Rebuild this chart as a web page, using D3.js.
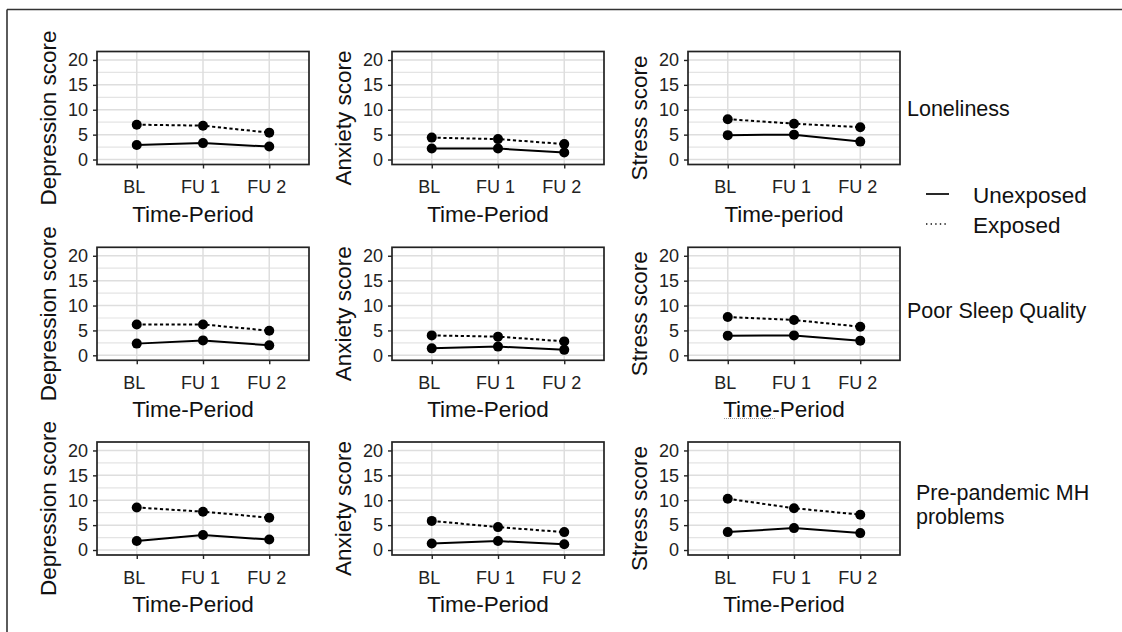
<!DOCTYPE html>
<html>
<head>
<meta charset="utf-8">
<script src="https://cdn.jsdelivr.net/npm/d3@7"></script>
<style>
  html, body { margin: 0; padding: 0; background: #fff; }
  svg { display: block; font-family: "Liberation Sans", Arial, sans-serif; }
</style>
</head>
<body>
<svg id="chart" width="1122" height="632"></svg>
<script>
// ---- Data ----
const timePoints = ["BL", "FU 1", "FU 2"];
const exposures = ["Loneliness", "Poor Sleep Quality", "Pre-pandemic MH problems"];
const exposureLabelLines = [["Loneliness"], ["Poor Sleep Quality"], ["Pre-pandemic MH", "problems"]];
const outcomes = ["Depression score", "Anxiety score", "Stress score"];
const xTitles = [
  ["Time-Period", "Time-Period", "Time-period"],
  ["Time-Period", "Time-Period", "Time-Period"],
  ["Time-Period", "Time-Period", "Time-Period"]
];
const yTicks = [0, 5, 10, 15, 20];
const yMinorTicks = [2.5, 7.5, 12.5, 17.5];
const groups = ["Unexposed", "Exposed"];

// values[row][col] = series over timePoints
const lonelinessUnexposed = [[2.9, 3.3, 2.6], [2.2, 2.2, 1.4], [4.9, 5.0, 3.6]];
const lonelinessExposed   = [[7.0, 6.8, 5.4], [4.4, 4.1, 3.1], [8.1, 7.2, 6.5]];
const sleepUnexposed      = [[2.35, 3.0, 2.0], [1.4, 1.75, 1.1], [3.95, 4.0, 2.95]];
const sleepExposed        = [[6.2, 6.2, 4.95], [4.0, 3.75, 2.8], [7.7, 7.1, 5.75]];
const prepandUnexposed    = [[1.8, 3.0, 2.1], [1.3, 1.8, 1.15], [3.6, 4.4, 3.4]];
const prepandExposed      = [[8.55, 7.7, 6.5], [5.85, 4.6, 3.6], [10.3, 8.4, 7.1]];

const unexposedByRow = [lonelinessUnexposed, sleepUnexposed, prepandUnexposed];
const exposedByRow = [lonelinessExposed, sleepExposed, prepandExposed];

// ---- Layout ----
const colLeft = [97, 392, 688];
const rowTop = [51.5, 247.3, 442];
const pw = 212, ph = 113;
const dashExposed = "3.2,2.6";
const FONT = "'Liberation Sans', Arial, sans-serif";

const svg = d3.select("#chart");

// outer frame (top and left lines)
svg.append("line").attr("x1", 7).attr("x2", 1122).attr("y1", 9.5).attr("y2", 9.5)
  .attr("stroke", "#333").attr("stroke-width", 1.6);
svg.append("line").attr("x1", 7).attr("x2", 7).attr("y1", 9.5).attr("y2", 632)
  .attr("stroke", "#333").attr("stroke-width", 1.6);

const x = d3.scalePoint().domain(timePoints).range([0, pw]).padding(0.6);
const y = d3.scaleLinear().domain([-1, 21.7]).range([ph, 0]);

const line = d3.line().x((d, i) => x(timePoints[i])).y(d => y(d));

exposures.forEach((exp, r) => {
  outcomes.forEach((out, c) => {
    const g = svg.append("g").attr("transform", `translate(${colLeft[c]},${rowTop[r]})`);
    g.append("rect").attr("width", pw).attr("height", ph).attr("fill", "#fff");
    // minor grid
    g.selectAll(".ming").data(yMinorTicks).join("line")
      .attr("x1", 0).attr("x2", pw).attr("y1", d => y(d)).attr("y2", d => y(d))
      .attr("stroke", "#e4e4e4").attr("stroke-width", 1.2);
    // major grid
    g.selectAll(".majg").data(yTicks).join("line")
      .attr("x1", 0).attr("x2", pw).attr("y1", d => y(d)).attr("y2", d => y(d))
      .attr("stroke", "#dedede").attr("stroke-width", 1.5);
    g.selectAll(".vg").data(timePoints).join("line")
      .attr("x1", d => x(d)).attr("x2", d => x(d)).attr("y1", 0).attr("y2", ph)
      .attr("stroke", "#dedede").attr("stroke-width", 1.5);

    // axes
    const yAxis = d3.axisLeft(y).tickValues(yTicks).tickSize(4).tickPadding(5).tickFormat(d3.format("d"));
    const ya = g.append("g").call(yAxis);
    ya.select(".domain").remove();
    ya.selectAll(".tick line").attr("stroke", "#222").attr("stroke-width", 1.4);
    ya.selectAll(".tick text").attr("font-size", 18).attr("fill", "#222")
      .attr("font-family", FONT);

    const xAxis = d3.axisBottom(x).tickSize(4).tickPadding(12);
    const xa = g.append("g").attr("transform", `translate(0,${ph})`).call(xAxis);
    xa.select(".domain").remove();
    xa.selectAll(".tick line").attr("stroke", "#222").attr("stroke-width", 1.4);
    xa.selectAll(".tick text").attr("font-size", 18).attr("fill", "#222")
      .attr("font-family", FONT)
      .attr("dx", -3);

    // series
    const un = unexposedByRow[r][c];
    const ex = exposedByRow[r][c];
    g.append("path").datum(un).attr("d", line).attr("fill", "none")
      .attr("stroke", "#000").attr("stroke-width", 2);
    g.append("path").datum(ex).attr("d", line).attr("fill", "none")
      .attr("stroke", "#000").attr("stroke-width", 2).attr("stroke-dasharray", dashExposed);
    [un, ex].forEach(series => {
      g.selectAll(null).data(series).join("circle")
        .attr("cx", (d, i) => x(timePoints[i])).attr("cy", d => y(d)).attr("r", 5)
        .attr("fill", "#000");
    });

    // panel border
    g.append("rect").attr("width", pw).attr("height", ph).attr("fill", "none")
      .attr("stroke", "#222").attr("stroke-width", 1.7);

    // axis titles
    g.append("text").text(xTitles[r][c])
      .attr("x", pw / 2 - 10).attr("y", ph + 57)
      .attr("text-anchor", "middle").attr("font-size", 22.5).attr("fill", "#111");
    g.append("text").text(out)
      .attr("transform", `translate(-41,${ph / 2 + 10}) rotate(-90)`)
      .attr("text-anchor", "middle").attr("font-size", 22.5).attr("fill", "#111");
  });
});

// row labels (right side)
const rowLabelPos = [{x: 907, y: 116}, {x: 907, y: 318}, {x: 916, y: 500}];
exposureLabelLines.forEach((lines, r) => {
  const t = svg.append("text").attr("x", rowLabelPos[r].x).attr("y", rowLabelPos[r].y)
    .attr("font-size", 21.5).attr("fill", "#111");
  lines.forEach((ln, i) => {
    t.append("tspan").attr("x", rowLabelPos[r].x).attr("dy", i === 0 ? 0 : 24).text(ln);
  });
});

// legend
const legend = svg.append("g").attr("transform", "translate(926,194)");
groups.forEach((grp, i) => {
  const gy = i * 30;
  legend.append("line").attr("x1", 0).attr("x2", 23).attr("y1", gy).attr("y2", gy)
    .attr("stroke", "#111").attr("stroke-width", i === 0 ? 1.8 : 1.4)
    .attr("stroke-dasharray", i === 0 ? null : "1.4,3.2");
  legend.append("text").text(grp).attr("x", 47).attr("y", gy + 9)
    .attr("font-size", 22.5).attr("fill", "#111");
});

// spell-check style underline under "Time" in the middle-right title (as in the source)
svg.append("line").attr("x1", 724).attr("x2", 775).attr("y1", 418.5).attr("y2", 418.5)
  .attr("stroke", "#999").attr("stroke-width", 1).attr("stroke-dasharray", "1,1");
</script>
</body>
</html>
